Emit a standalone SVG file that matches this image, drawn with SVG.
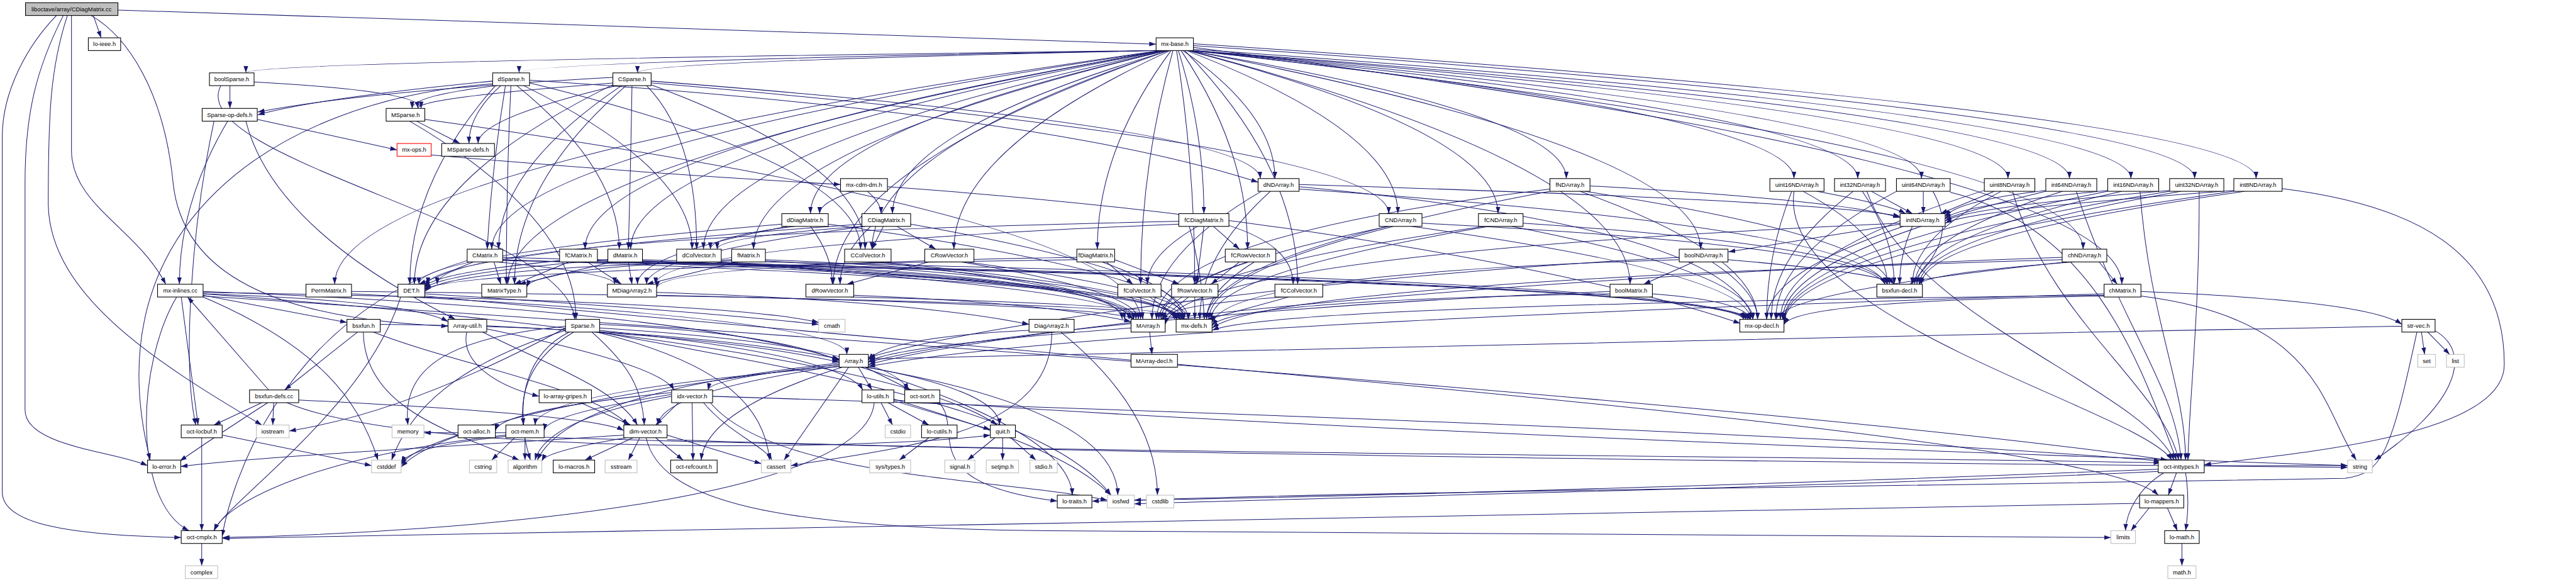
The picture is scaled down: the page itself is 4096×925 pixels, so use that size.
<svg xmlns="http://www.w3.org/2000/svg" width="4096" height="925" viewBox="0 0 4096 925">
<style>
.n rect{fill:#fff;stroke:#000;stroke-width:1.5}
.g rect{stroke:#bfbfbf}
.r rect{stroke:#f00}
#n_root rect{fill:#bfbfbf}
text{font-family:"Liberation Sans",Arial,sans-serif;font-size:13px;text-anchor:middle;fill:#000}
#edges path{fill:none;stroke:#191970;stroke-width:1.4;marker-end:url(#a)}
</style>
<defs>
<marker id="a" viewBox="0 0 15 10" refX="15" refY="5" markerWidth="15" markerHeight="10" markerUnits="userSpaceOnUse" orient="auto"><path d="M0,0L15,5L0,10z" fill="#191970"/></marker>
</defs>
<rect width="4096" height="925" fill="#fff"/>
<g transform="scale(0.724)">
<g id="edges">
<path d="M124,34 C60,100 5,200 5,300 L5,1080 C5,1150 150,1175 398,1180"/>
<path d="M139,34 C80,150 55,250 55,400 L55,900 C55,980 250,990 324,1022"/>
<path d="M148,34 C110,150 106,250 106,450 C110,650 350,800 575,933"/>
<path d="M157,34 L157,330 C157,450 300,500 364,624"/>
<path d="M205,34 L222,83"/>
<path d="M200,34 C280,80 360,200 380,400 C400,600 600,700 984,716"/>
<path d="M259,22 C1000,45 2000,80 2539,97"/>
<path d="M2545,111 Q540,135 540,160"/>
<path d="M2548,111 Q1140,135 1140,160"/>
<path d="M2551,111 Q1400,135 1400,160"/>
<path d="M2554,111 Q1080,329 1080,547"/>
<path d="M2556,111 Q1285,329 1285,547"/>
<path d="M2558,111 Q1385,329 1385,547"/>
<path d="M2560,111 Q1545,329 1545,547"/>
<path d="M2562,111 Q1655,329 1655,547"/>
<path d="M2564,111 Q1780,290 1780,469"/>
<path d="M2566,111 Q1915,329 1915,547"/>
<path d="M2568,111 Q1960,290 1960,469"/>
<path d="M2570,111 Q2095,329 2095,547"/>
<path d="M2572,111 Q2410,329 2410,547"/>
<path d="M2550,111 Q735,367 735,624"/>
<path d="M2552,111 Q1115,367 1115,624"/>
<path d="M2566,111 Q1830,367 1830,624"/>
<path d="M2576,111 Q2505,367 2505,624"/>
<path d="M2584,111 Q2624,367 2624,624"/>
<path d="M2588,111 Q2644,290 2644,469"/>
<path d="M2594,111 Q2740,329 2740,547"/>
<path d="M2598,111 Q2800,251 2800,392"/>
<path d="M2602,111 Q2850,367 2850,624"/>
<path d="M2606,111 Q3070,290 3070,469"/>
<path d="M2608,111 Q3290,290 3290,469"/>
<path d="M2610,111 Q3440,251 3440,392"/>
<path d="M2612,111 Q3580,367 3580,624"/>
<path d="M2613,111 Q3735,329 3735,547"/>
<path d="M2614,111 Q3940,251 3940,392"/>
<path d="M2615,111 Q4080,251 4080,392"/>
<path d="M2616,111 Q4220,251 4220,392"/>
<path d="M2617,111 Q4410,251 4410,392"/>
<path d="M2618,111 Q4545,251 4545,392"/>
<path d="M2619,111 Q4575,329 4575,547"/>
<path d="M2620,108 Q4680,251 4680,392"/>
<path d="M2621,104 Q4660,367 4660,624"/>
<path d="M2621,100 Q4820,251 4820,392"/>
<path d="M2621,96 Q4955,251 4955,392"/>
<path d="M505,188 L505,238"/>
<path d="M558,180 Q925,200 925,238"/>
<path d="M485,188 C400,350 1250,500 1262,701"/>
<path d="M1082,178 Q700,215 566,252"/>
<path d="M1092,188 Q905,210 905,238"/>
<path d="M1100,188 Q1030,250 1030,315"/>
<path d="M1110,188 Q1080,370 1070,547"/>
<path d="M1122,188 Q1112,400 1112,624"/>
<path d="M1135,188 Q1360,370 1360,547"/>
<path d="M1150,188 Q1520,370 1520,547"/>
<path d="M1163,182 Q1890,360 1890,547"/>
<path d="M1163,176 Q2300,250 2763,400"/>
<path d="M1088,188 Q900,400 900,624"/>
<path d="M1082,184 C600,220 200,500 330,1010"/>
<path d="M1346,170 Q800,200 566,246"/>
<path d="M1350,182 Q915,215 918,238"/>
<path d="M1355,188 Q1050,260 1050,315"/>
<path d="M1365,188 Q1095,370 1095,547"/>
<path d="M1375,188 Q1130,400 1130,624"/>
<path d="M1388,188 Q1385,370 1380,547"/>
<path d="M1420,188 Q1530,300 1530,547"/>
<path d="M1430,186 Q1900,360 1900,547"/>
<path d="M1430,178 Q2760,280 2768,392"/>
<path d="M1430,182 Q3050,320 3050,469"/>
<path d="M1346,186 Q910,400 910,624"/>
<path d="M565,262 L872,329"/>
<path d="M500,266 Q394,445 394,624"/>
<path d="M470,266 C420,500 400,800 430,933"/>
<path d="M540,266 C600,500 900,650 1000,701"/>
<path d="M915,266 L1010,315"/>
<path d="M900,266 Q1265,480 1265,701"/>
<path d="M933,262 Q2500,480 2505,701"/>
<path d="M947,340 Q1400,380 1846,405"/>
<path d="M1875,420 Q1800,445 1800,469"/>
<path d="M1905,420 Q1935,445 1935,469"/>
<path d="M1949,410 C2800,470 3500,600 3822,710"/>
<path d="M1730,497 Q1400,560 1400,624"/>
<path d="M1780,497 Q1828,560 1828,624"/>
<path d="M1745,497 Q1560,520 1560,547"/>
<path d="M1717,492 Q920,560 920,624"/>
<path d="M1819,492 Q2600,600 2600,701"/>
<path d="M1900,497 Q1420,560 1420,624"/>
<path d="M1912,497 Q1845,560 1845,624"/>
<path d="M1970,497 L2055,547"/>
<path d="M1940,497 L1915,547"/>
<path d="M1895,497 Q1575,520 1575,547"/>
<path d="M1893,492 Q940,560 940,624"/>
<path d="M2000,492 Q2610,600 2610,701"/>
<path d="M2665,497 L2722,547"/>
<path d="M2644,497 L2628,624"/>
<path d="M2630,497 Q2520,560 2520,624"/>
<path d="M2699,495 Q2840,540 2840,624"/>
<path d="M2589,492 Q1440,540 1440,624"/>
<path d="M2589,486 Q960,520 960,624"/>
<path d="M2612,497 Q2640,600 2645,701"/>
<path d="M2430,575 L2488,624"/>
<path d="M2448,570 L2590,624"/>
<path d="M2365,565 Q1450,580 1442,632"/>
<path d="M2365,570 Q980,590 933,636"/>
<path d="M2420,575 Q2600,640 2600,701"/>
<path d="M2740,575 Q2545,640 2545,701"/>
<path d="M2755,575 Q2650,640 2650,701"/>
<path d="M2722,575 L2660,624"/>
<path d="M2110,575 Q2500,640 2500,701"/>
<path d="M2120,575 Q2610,640 2610,701"/>
<path d="M2040,575 L1860,624"/>
<path d="M1920,575 Q2495,640 2495,701"/>
<path d="M1935,575 Q2600,640 2600,701"/>
<path d="M1560,575 Q2490,640 2490,701"/>
<path d="M1570,575 Q2595,640 2595,701"/>
<path d="M1875,648 Q2300,665 2484,706"/>
<path d="M1868,652 Q2598,670 2598,701"/>
<path d="M2505,652 L2510,701"/>
<path d="M2525,652 L2595,701"/>
<path d="M2610,652 L2550,701"/>
<path d="M2624,652 L2624,701"/>
<path d="M2820,652 Q2560,670 2555,701"/>
<path d="M2830,652 L2652,701"/>
<path d="M1104,565 Q2480,600 2490,701"/>
<path d="M1104,570 Q2590,620 2595,701"/>
<path d="M1090,575 Q1350,600 1350,624"/>
<path d="M1085,575 L1100,624"/>
<path d="M1104,572 Q3800,620 3830,701"/>
<path d="M1040,575 L920,624"/>
<path d="M1026,572 C600,700 500,1100 488,1178"/>
<path d="M1311,570 Q2470,600 2480,701"/>
<path d="M1311,573 Q2580,620 2590,701"/>
<path d="M1290,575 L1365,624"/>
<path d="M1250,575 L1130,624"/>
<path d="M1311,575 Q3780,620 3835,701"/>
<path d="M1229,572 Q950,600 933,630"/>
<path d="M1411,570 Q2460,600 2470,701"/>
<path d="M1411,573 Q2570,620 2585,701"/>
<path d="M1380,575 L1388,624"/>
<path d="M1345,575 L1140,624"/>
<path d="M1411,575 Q3770,620 3840,701"/>
<path d="M1335,570 Q960,600 933,634"/>
<path d="M1681,570 Q2450,600 2465,701"/>
<path d="M1681,573 Q2560,620 2580,701"/>
<path d="M1620,575 L1420,624"/>
<path d="M1607,570 Q1170,590 1157,630"/>
<path d="M1681,575 Q3760,620 3845,701"/>
<path d="M1607,573 Q980,590 933,640"/>
<path d="M772,645 Q1860,700 1860,778"/>
<path d="M772,640 Q2560,660 2585,701"/>
<path d="M933,645 Q1500,680 1798,712"/>
<path d="M880,652 C800,900 500,1100 470,1165"/>
<path d="M933,650 C2500,800 4600,950 4740,1087"/>
<path d="M1442,642 Q2000,660 2260,712"/>
<path d="M1442,648 Q2450,670 2490,701"/>
<path d="M2260,725 Q1950,740 1907,790"/>
<path d="M2310,729 C2310,950 2000,980 1737,1022"/>
<path d="M2330,729 Q2540,900 2542,1087"/>
<path d="M2484,720 Q1950,760 1907,795"/>
<path d="M2525,729 L2530,778"/>
<path d="M5318,729 L5325,778"/>
<path d="M5332,729 L5380,778"/>
<path d="M5348,726 C5440,780 5380,900 5215,1010"/>
<path d="M5308,729 C5250,1000 5230,1040 5150,1050 C4000,1070 3000,1080 2491,1098"/>
<path d="M5275,716 C4000,740 2500,770 1907,788"/>
<path d="M1864,806 L1722,1010"/>
<path d="M1843,800 Q1000,900 881,1025"/>
<path d="M1843,797 Q1250,860 1180,1010"/>
<path d="M1900,806 Q2450,900 2455,1087"/>
<path d="M1845,803 Q1450,860 1445,933"/>
<path d="M1845,800 Q1560,830 1555,856"/>
<path d="M1890,806 Q2350,950 2355,1087"/>
<path d="M1885,806 L1915,856"/>
<path d="M1900,806 L2000,856"/>
<path d="M1905,806 Q2195,860 2195,933"/>
<path d="M1843,805 Q1180,860 1175,933"/>
<path d="M1850,806 Q1550,900 1540,1010"/>
<path d="M446,645 C1200,700 2000,800 2190,933"/>
<path d="M388,652 C300,800 290,1100 415,1165"/>
<path d="M398,652 L435,933"/>
<path d="M446,650 C2000,750 4000,900 4760,1010"/>
<path d="M446,640 Q1500,680 1845,790"/>
<path d="M446,645 Q900,660 984,706"/>
<path d="M446,648 L762,708"/>
<path d="M446,652 C700,760 790,880 830,1010"/>
<path d="M446,642 Q1600,660 1798,708"/>
<path d="M785,729 L625,856"/>
<path d="M835,712 Q1500,720 1843,788"/>
<path d="M820,729 C1000,800 1300,850 1380,933"/>
<path d="M798,729 C800,900 1000,950 1140,1010"/>
<path d="M590,856 L412,652"/>
<path d="M575,884 L470,933"/>
<path d="M601,884 L599,933"/>
<path d="M588,884 Q470,960 395,1012"/>
<path d="M656,878 Q1300,910 1370,945"/>
<path d="M630,884 C900,1000 1900,990 2175,955"/>
<path d="M1069,715 Q1600,740 1843,795"/>
<path d="M1060,729 C1200,800 1350,850 1400,933"/>
<path d="M1069,722 Q1450,800 1480,856"/>
<path d="M1025,729 C1010,800 1100,850 1184,870"/>
<path d="M1317,712 Q1700,730 1843,792"/>
<path d="M1300,729 C1380,800 1410,850 1415,933"/>
<path d="M1260,729 C1140,800 1130,900 1165,1010"/>
<path d="M1250,729 C1150,780 1145,880 1150,933"/>
<path d="M1310,729 C1600,800 1680,900 1690,1010"/>
<path d="M1317,725 Q1850,780 1895,856"/>
<path d="M1317,720 Q1950,760 1995,856"/>
<path d="M1317,729 C1800,820 2300,900 2440,1087"/>
<path d="M1242,725 C1000,800 900,900 860,1010"/>
<path d="M1242,720 C1000,850 800,920 635,946"/>
<path d="M1242,716 C1000,740 880,800 896,933"/>
<path d="M1275,884 L1385,933"/>
<path d="M1490,884 L1440,933"/>
<path d="M1520,884 L1522,1010"/>
<path d="M1545,884 C1600,950 1680,980 1695,1010"/>
<path d="M1474,870 Q1200,920 1175,1010"/>
<path d="M1474,862 Q1100,900 1088,945"/>
<path d="M1474,866 Q1200,910 1195,945"/>
<path d="M1560,884 C1700,1050 2200,1050 2432,1098"/>
<path d="M1565,870 C2500,900 4000,950 4745,1012"/>
<path d="M1935,884 L1960,933"/>
<path d="M1950,884 L2040,933"/>
<path d="M1963,880 L2175,943"/>
<path d="M1963,876 C2200,950 2350,1000 2440,1087"/>
<path d="M1963,878 C3000,950 4500,1000 5156,1022"/>
<path d="M1920,884 C1900,1100 1000,1170 489,1180"/>
<path d="M2062,884 C2120,940 2000,1060 2322,1100"/>
<path d="M2040,961 L1975,1010"/>
<path d="M2185,961 L2125,1010"/>
<path d="M2202,961 L2202,1010"/>
<path d="M2220,961 L2275,1010"/>
<path d="M1390,961 L1285,1010"/>
<path d="M1405,961 L1380,1010"/>
<path d="M1440,961 L1500,1010"/>
<path d="M1465,955 L1672,1018"/>
<path d="M1370,955 C1000,980 600,1000 397,1024"/>
<path d="M1419,961 C1450,1100 1700,1160 2300,1165 C3500,1170 4200,1175 4636,1180"/>
<path d="M1465,965 C2500,1000 4500,1020 5156,1026"/>
<path d="M1375,961 Q1200,990 1190,1012"/>
<path d="M1130,961 L1080,1010"/>
<path d="M1153,961 L1153,1010"/>
<path d="M1111,958 Q900,980 881,1016"/>
<path d="M1111,955 C700,1000 500,1100 470,1165"/>
<path d="M1195,960 C2500,1000 4000,1000 4745,1016"/>
<path d="M1111,950 L931,950"/>
<path d="M1006,955 Q900,990 881,1020"/>
<path d="M488,955 L816,1022"/>
<path d="M443,961 L443,1165"/>
<path d="M4780,1038 L4762,1087"/>
<path d="M4800,1038 Q4810,1100 4800,1165"/>
<path d="M4752,1038 C4700,1070 4670,1120 4668,1165"/>
<path d="M4740,1030 C4000,1060 3000,1090 2398,1100"/>
<path d="M4740,1035 C4000,1070 3000,1090 2491,1106"/>
<path d="M4841,1022 L5156,1022"/>
<path d="M4760,1115 L4782,1165"/>
<path d="M4720,1115 L4680,1165"/>
<path d="M4699,1105 C3000,1130 1500,1170 489,1182"/>
<path d="M4792,1193 L4792,1242"/>
<path d="M443,1193 L443,1242"/>
<path d="M3990,420 Q4150,450 4185,469"/>
<path d="M3960,420 Q4145,520 4145,624"/>
<path d="M3935,420 Q3880,560 3880,701"/>
<path d="M3940,420 C3900,700 4700,900 4770,1010"/>
<path d="M4110,420 L4200,469"/>
<path d="M4090,420 Q4160,520 4160,624"/>
<path d="M4070,420 Q3890,560 3890,701"/>
<path d="M4100,420 C4200,700 4700,850 4775,1010"/>
<path d="M4224,420 L4224,469"/>
<path d="M4245,420 C4290,500 4260,560 4195,624"/>
<path d="M4165,420 Q3900,560 3900,701"/>
<path d="M4283,422 C4600,500 4700,800 4780,1010"/>
<path d="M4380,420 L4262,469"/>
<path d="M4395,420 Q4200,520 4200,624"/>
<path d="M4358,418 Q3910,560 3910,701"/>
<path d="M4420,420 C4500,700 4750,850 4785,1010"/>
<path d="M4493,418 Q4300,440 4272,475"/>
<path d="M4530,420 Q4210,520 4205,624"/>
<path d="M4493,420 Q3915,560 3915,701"/>
<path d="M4560,420 C4650,700 4780,850 4790,1010"/>
<path d="M4629,418 Q4300,450 4272,480"/>
<path d="M4660,420 Q4215,520 4210,624"/>
<path d="M4629,420 Q3918,560 3918,703"/>
<path d="M4700,420 C4720,700 4800,850 4800,1010"/>
<path d="M4765,418 Q4320,455 4272,485"/>
<path d="M4790,420 Q4220,520 4215,624"/>
<path d="M4765,420 Q3918,560 3918,706"/>
<path d="M4830,420 C4830,700 4810,850 4805,1010"/>
<path d="M4906,418 Q4330,460 4272,490"/>
<path d="M4930,420 Q4222,520 4220,624"/>
<path d="M4906,420 Q3918,560 3918,710"/>
<path d="M5012,414 C5300,450 5500,550 5500,800 C5500,950 5100,990 4841,1020"/>
<path d="M4173,490 Q2600,560 2559,712"/>
<path d="M4173,492 L3796,553"/>
<path d="M4200,497 Q4172,560 4172,624"/>
<path d="M4180,497 Q3880,600 3880,701"/>
<path d="M2770,420 Q2530,560 2530,701"/>
<path d="M2853,405 Q4000,440 4173,475"/>
<path d="M2790,420 Q2635,560 2635,701"/>
<path d="M2853,410 Q3800,500 3850,701"/>
<path d="M2853,415 Q4100,500 4140,624"/>
<path d="M3404,415 Q2540,520 2540,701"/>
<path d="M3492,408 Q4050,440 4173,478"/>
<path d="M3404,420 Q2650,560 2650,701"/>
<path d="M3470,420 Q3860,560 3860,701"/>
<path d="M3480,420 Q4130,520 4150,624"/>
<path d="M3050,497 Q2550,600 2550,701"/>
<path d="M3060,497 Q2655,600 2655,701"/>
<path d="M3100,497 Q3840,600 3845,701"/>
<path d="M3123,490 Q4100,540 4140,624"/>
<path d="M3260,497 Q2555,600 2555,701"/>
<path d="M3270,497 Q2660,600 2660,701"/>
<path d="M3320,497 Q3850,600 3850,701"/>
<path d="M3345,490 Q4100,540 4145,624"/>
<path d="M3720,575 L3610,624"/>
<path d="M3688,565 C3000,600 2200,700 1907,785"/>
<path d="M3688,570 Q2700,600 2662,708"/>
<path d="M3760,575 Q3860,640 3860,701"/>
<path d="M3795,570 Q4140,600 4160,624"/>
<path d="M3536,640 C3000,660 2200,720 1907,795"/>
<path d="M3536,645 Q2700,660 2662,715"/>
<path d="M3629,645 Q3830,660 3845,701"/>
<path d="M4610,575 L4650,624"/>
<path d="M4529,565 C3500,600 2300,700 1907,800"/>
<path d="M4529,570 Q2800,620 2662,720"/>
<path d="M4540,575 Q3920,640 3900,701"/>
<path d="M4555,575 Q4230,600 4215,624"/>
<path d="M4621,645 C3500,680 2300,730 1907,805"/>
<path d="M4621,648 Q2800,670 2662,725"/>
<path d="M4621,650 Q3950,660 3918,712"/>
<path d="M4702,640 Q5200,660 5275,712"/>
<path d="M4702,650 C5100,700 5100,900 5175,1010"/>
</g>
<g id="n_root" class="n"><rect x="56" y="6" width="203" height="28"/><text x="157" y="24.5">liboctave/array/CDiagMatrix.cc</text></g>
<g id="n_ieee" class="n"><rect x="194" y="83" width="71" height="28"/><text x="229.5" y="101.5">lo-ieee.h</text></g>
<g id="n_base" class="n"><rect x="2539" y="83" width="82" height="28"/><text x="2580" y="101.5">mx-base.h</text></g>
<g id="n_bsp" class="n"><rect x="460" y="160" width="98" height="28"/><text x="509" y="178.5">boolSparse.h</text></g>
<g id="n_dsp" class="n"><rect x="1082" y="160" width="81" height="28"/><text x="1122.5" y="178.5">dSparse.h</text></g>
<g id="n_csp" class="n"><rect x="1346" y="160" width="84" height="28"/><text x="1388" y="178.5">CSparse.h</text></g>
<g id="n_sod" class="n"><rect x="444" y="238" width="121" height="28"/><text x="504.5" y="256.5">Sparse-op-defs.h</text></g>
<g id="n_msp" class="n"><rect x="848" y="238" width="85" height="28"/><text x="890.5" y="256.5">MSparse.h</text></g>
<g id="n_mxops" class="n r"><rect x="872" y="315" width="75" height="28"/><text x="909.5" y="333.5">mx-ops.h</text></g>
<g id="n_msd" class="n"><rect x="970" y="315" width="116" height="28"/><text x="1028" y="333.5">MSparse-defs.h</text></g>
<g id="n_cdmdm" class="n"><rect x="1846" y="392" width="103" height="28"/><text x="1897.5" y="410.5">mx-cdm-dm.h</text></g>
<g id="n_dnd" class="n"><rect x="2763" y="392" width="90" height="28"/><text x="2808" y="410.5">dNDArray.h</text></g>
<g id="n_fnd" class="n"><rect x="3404" y="392" width="88" height="28"/><text x="3448" y="410.5">fNDArray.h</text></g>
<g id="n_u16" class="n"><rect x="3887" y="392" width="119" height="28"/><text x="3946.5" y="410.5">uint16NDArray.h</text></g>
<g id="n_i32" class="n"><rect x="4029" y="392" width="112" height="28"/><text x="4085" y="410.5">int32NDArray.h</text></g>
<g id="n_u64" class="n"><rect x="4165" y="392" width="118" height="28"/><text x="4224" y="410.5">uint64NDArray.h</text></g>
<g id="n_u8" class="n"><rect x="4358" y="392" width="111" height="28"/><text x="4413.5" y="410.5">uint8NDArray.h</text></g>
<g id="n_i64" class="n"><rect x="4493" y="392" width="112" height="28"/><text x="4549" y="410.5">int64NDArray.h</text></g>
<g id="n_i16" class="n"><rect x="4629" y="392" width="112" height="28"/><text x="4685" y="410.5">int16NDArray.h</text></g>
<g id="n_u32" class="n"><rect x="4765" y="392" width="119" height="28"/><text x="4824.5" y="410.5">uint32NDArray.h</text></g>
<g id="n_i8" class="n"><rect x="4906" y="392" width="106" height="28"/><text x="4959" y="410.5">int8NDArray.h</text></g>
<g id="n_ddm" class="n"><rect x="1717" y="469" width="102" height="28"/><text x="1768" y="487.5">dDiagMatrix.h</text></g>
<g id="n_cdm" class="n"><rect x="1893" y="469" width="107" height="28"/><text x="1946.5" y="487.5">CDiagMatrix.h</text></g>
<g id="n_fcdm" class="n"><rect x="2589" y="469" width="110" height="28"/><text x="2644" y="487.5">fCDiagMatrix.h</text></g>
<g id="n_cnd" class="n"><rect x="3029" y="469" width="94" height="28"/><text x="3076" y="487.5">CNDArray.h</text></g>
<g id="n_fcnd" class="n"><rect x="3247" y="469" width="98" height="28"/><text x="3296" y="487.5">fCNDArray.h</text></g>
<g id="n_ind" class="n"><rect x="4173" y="469" width="99" height="28"/><text x="4222.5" y="487.5">intNDArray.h</text></g>
<g id="n_cm" class="n"><rect x="1026" y="547" width="78" height="28"/><text x="1065" y="565.5">CMatrix.h</text></g>
<g id="n_fcm" class="n"><rect x="1229" y="547" width="83" height="28"/><text x="1270.5" y="565.5">fCMatrix.h</text></g>
<g id="n_dm" class="n"><rect x="1335" y="547" width="76" height="28"/><text x="1373" y="565.5">dMatrix.h</text></g>
<g id="n_dcv" class="n"><rect x="1486" y="547" width="98" height="28"/><text x="1535" y="565.5">dColVector.h</text></g>
<g id="n_fm" class="n"><rect x="1607" y="547" width="74" height="28"/><text x="1644" y="565.5">fMatrix.h</text></g>
<g id="n_ccv" class="n"><rect x="1855" y="547" width="102" height="28"/><text x="1906" y="565.5">CColVector.h</text></g>
<g id="n_crv" class="n"><rect x="2031" y="547" width="108" height="28"/><text x="2085" y="565.5">CRowVector.h</text></g>
<g id="n_fdm" class="n"><rect x="2365" y="547" width="83" height="28"/><text x="2406.5" y="565.5">fDiagMatrix.h</text></g>
<g id="n_fcrv" class="n"><rect x="2691" y="547" width="111" height="28"/><text x="2746.5" y="565.5">fCRowVector.h</text></g>
<g id="n_bnd" class="n"><rect x="3688" y="547" width="107" height="28"/><text x="3741.5" y="565.5">boolNDArray.h</text></g>
<g id="n_chnd" class="n"><rect x="4529" y="547" width="98" height="28"/><text x="4578" y="565.5">chNDArray.h</text></g>
<g id="n_inl" class="n"><rect x="346" y="624" width="100" height="28"/><text x="396" y="642.5">mx-inlines.cc</text></g>
<g id="n_perm" class="n"><rect x="672" y="624" width="100" height="28"/><text x="722" y="642.5">PermMatrix.h</text></g>
<g id="n_det" class="n"><rect x="874" y="624" width="59" height="28"/><text x="903.5" y="642.5">DET.h</text></g>
<g id="n_mt" class="n"><rect x="1058" y="624" width="99" height="28"/><text x="1107.5" y="642.5">MatrixType.h</text></g>
<g id="n_mda" class="n"><rect x="1334" y="624" width="108" height="28"/><text x="1388" y="642.5">MDiagArray2.h</text></g>
<g id="n_drv" class="n"><rect x="1770" y="624" width="105" height="28"/><text x="1822.5" y="642.5">dRowVector.h</text></g>
<g id="n_fcv" class="n"><rect x="2455" y="624" width="95" height="28"/><text x="2502.5" y="642.5">fColVector.h</text></g>
<g id="n_frv" class="n"><rect x="2573" y="624" width="102" height="28"/><text x="2624" y="642.5">fRowVector.h</text></g>
<g id="n_fccv" class="n"><rect x="2800" y="624" width="105" height="28"/><text x="2852.5" y="642.5">fCColVector.h</text></g>
<g id="n_bm" class="n"><rect x="3536" y="624" width="93" height="28"/><text x="3582.5" y="642.5">boolMatrix.h</text></g>
<g id="n_bxd" class="n"><rect x="4122" y="624" width="100" height="28"/><text x="4172" y="642.5">bsxfun-decl.h</text></g>
<g id="n_chm" class="n"><rect x="4621" y="624" width="81" height="28"/><text x="4661.5" y="642.5">chMatrix.h</text></g>
<g id="n_bsx" class="n"><rect x="762" y="701" width="73" height="28"/><text x="798.5" y="719.5">bsxfun.h</text></g>
<g id="n_au" class="n"><rect x="984" y="701" width="85" height="28"/><text x="1026.5" y="719.5">Array-util.h</text></g>
<g id="n_sp" class="n"><rect x="1242" y="701" width="75" height="28"/><text x="1279.5" y="719.5">Sparse.h</text></g>
<g id="n_cmath" class="n g"><rect x="1798" y="701" width="58" height="28"/><text x="1827" y="719.5">cmath</text></g>
<g id="n_da2" class="n"><rect x="2260" y="701" width="99" height="28"/><text x="2309.5" y="719.5">DiagArray2.h</text></g>
<g id="n_ma" class="n"><rect x="2484" y="701" width="75" height="28"/><text x="2521.5" y="719.5">MArray.h</text></g>
<g id="n_mxd" class="n"><rect x="2583" y="701" width="79" height="28"/><text x="2622.5" y="719.5">mx-defs.h</text></g>
<g id="n_mod" class="n"><rect x="3821" y="701" width="97" height="28"/><text x="3869.5" y="719.5">mx-op-decl.h</text></g>
<g id="n_sv" class="n"><rect x="5275" y="701" width="73" height="28"/><text x="5311.5" y="719.5">str-vec.h</text></g>
<g id="n_arr" class="n"><rect x="1843" y="778" width="64" height="28"/><text x="1875" y="796.5">Array.h</text></g>
<g id="n_mad" class="n"><rect x="2484" y="778" width="102" height="28"/><text x="2535" y="796.5">MArray-decl.h</text></g>
<g id="n_set" class="n g"><rect x="5310" y="778" width="39" height="28"/><text x="5329.5" y="796.5">set</text></g>
<g id="n_list" class="n g"><rect x="5373" y="778" width="39" height="28"/><text x="5392.5" y="796.5">list</text></g>
<g id="n_bdc" class="n"><rect x="548" y="856" width="108" height="28"/><text x="602" y="874.5">bsxfun-defs.cc</text></g>
<g id="n_lag" class="n"><rect x="1184" y="856" width="115" height="28"/><text x="1241.5" y="874.5">lo-array-gripes.h</text></g>
<g id="n_idx" class="n"><rect x="1475" y="856" width="90" height="28"/><text x="1520" y="874.5">idx-vector.h</text></g>
<g id="n_lu" class="n"><rect x="1893" y="856" width="70" height="28"/><text x="1928" y="874.5">lo-utils.h</text></g>
<g id="n_os" class="n"><rect x="1987" y="856" width="77" height="28"/><text x="2025.5" y="874.5">oct-sort.h</text></g>
<g id="n_lb" class="n"><rect x="398" y="933" width="90" height="28"/><text x="443" y="951.5">oct-locbuf.h</text></g>
<g id="n_ios" class="n g"><rect x="563" y="933" width="72" height="28"/><text x="599" y="951.5">iostream</text></g>
<g id="n_mem" class="n g"><rect x="861" y="933" width="70" height="28"/><text x="896" y="951.5">memory</text></g>
<g id="n_oa" class="n"><rect x="1006" y="933" width="82" height="28"/><text x="1047" y="951.5">oct-alloc.h</text></g>
<g id="n_om" class="n"><rect x="1111" y="933" width="84" height="28"/><text x="1153" y="951.5">oct-mem.h</text></g>
<g id="n_dv" class="n"><rect x="1370" y="933" width="95" height="28"/><text x="1417.5" y="951.5">dim-vector.h</text></g>
<g id="n_cstdio" class="n g"><rect x="1944" y="933" width="56" height="28"/><text x="1972" y="951.5">cstdio</text></g>
<g id="n_lcu" class="n"><rect x="2024" y="933" width="78" height="28"/><text x="2063" y="951.5">lo-cutils.h</text></g>
<g id="n_quit" class="n"><rect x="2175" y="933" width="55" height="28"/><text x="2202.5" y="951.5">quit.h</text></g>
<g id="n_le" class="n"><rect x="324" y="1010" width="73" height="28"/><text x="360.5" y="1028.5">lo-error.h</text></g>
<g id="n_cstddef" class="n g"><rect x="816" y="1010" width="65" height="28"/><text x="848.5" y="1028.5">cstddef</text></g>
<g id="n_cstring" class="n g"><rect x="1031" y="1010" width="60" height="28"/><text x="1061" y="1028.5">cstring</text></g>
<g id="n_alg" class="n g"><rect x="1116" y="1010" width="74" height="28"/><text x="1153" y="1028.5">algorithm</text></g>
<g id="n_lm" class="n"><rect x="1215" y="1010" width="91" height="28"/><text x="1260.5" y="1028.5">lo-macros.h</text></g>
<g id="n_sstream" class="n g"><rect x="1329" y="1010" width="70" height="28"/><text x="1364" y="1028.5">sstream</text></g>
<g id="n_rc" class="n"><rect x="1473" y="1010" width="102" height="28"/><text x="1524" y="1028.5">oct-refcount.h</text></g>
<g id="n_cassert" class="n g"><rect x="1672" y="1010" width="65" height="28"/><text x="1704.5" y="1028.5">cassert</text></g>
<g id="n_st" class="n g"><rect x="1910" y="1010" width="90" height="28"/><text x="1955" y="1028.5">sys/types.h</text></g>
<g id="n_signal" class="n g"><rect x="2075" y="1010" width="66" height="28"/><text x="2108" y="1028.5">signal.h</text></g>
<g id="n_setjmp" class="n g"><rect x="2166" y="1010" width="71" height="28"/><text x="2201.5" y="1028.5">setjmp.h</text></g>
<g id="n_stdio" class="n g"><rect x="2262" y="1010" width="60" height="28"/><text x="2292" y="1028.5">stdio.h</text></g>
<g id="n_oit" class="n"><rect x="4740" y="1010" width="101" height="28"/><text x="4790.5" y="1028.5">oct-inttypes.h</text></g>
<g id="n_string" class="n g"><rect x="5156" y="1010" width="54" height="28"/><text x="5183" y="1028.5">string</text></g>
<g id="n_lt" class="n"><rect x="2322" y="1087" width="76" height="28"/><text x="2360" y="1105.5">lo-traits.h</text></g>
<g id="n_iosfwd" class="n g"><rect x="2432" y="1087" width="59" height="28"/><text x="2461.5" y="1105.5">iosfwd</text></g>
<g id="n_cstdlib" class="n g"><rect x="2518" y="1087" width="60" height="28"/><text x="2548" y="1105.5">cstdlib</text></g>
<g id="n_lmap" class="n"><rect x="4699" y="1087" width="97" height="28"/><text x="4747.5" y="1105.5">lo-mappers.h</text></g>
<g id="n_cmplx" class="n"><rect x="398" y="1165" width="90" height="28"/><text x="443" y="1183.5">oct-cmplx.h</text></g>
<g id="n_limits" class="n g"><rect x="4636" y="1165" width="54" height="28"/><text x="4663" y="1183.5">limits</text></g>
<g id="n_lmath" class="n"><rect x="4754" y="1165" width="76" height="28"/><text x="4792" y="1183.5">lo-math.h</text></g>
<g id="n_complex" class="n g"><rect x="407" y="1242" width="71" height="28"/><text x="442.5" y="1260.5">complex</text></g>
<g id="n_mathh" class="n g"><rect x="4761" y="1242" width="62" height="28"/><text x="4792" y="1260.5">math.h</text></g>
</g>
</svg>
